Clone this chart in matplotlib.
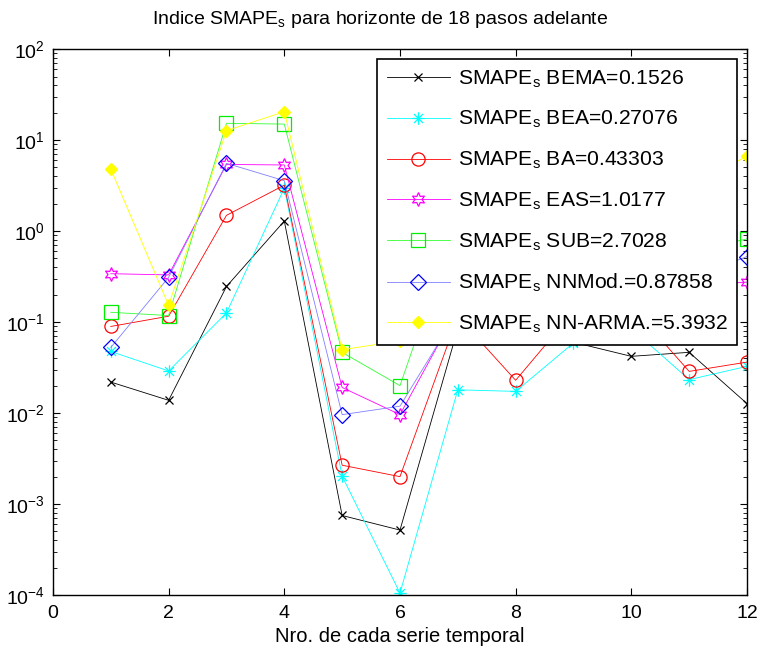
import matplotlib
matplotlib.use("Agg")
import matplotlib.pyplot as plt
import numpy as np
from matplotlib.ticker import LogLocator, NullFormatter
from matplotlib.path import Path

plt.rcParams['font.family'] = ['Liberation Sans', 'DejaVu Sans']
plt.rcParams['mathtext.fontset'] = 'custom'
plt.rcParams['mathtext.rm'] = 'Liberation Sans'
plt.rcParams['mathtext.it'] = 'Liberation Sans'

x = [1, 2, 3, 4, 5, 6, 7, 8, 9, 10, 11, 12]
bema = [0.0219, 0.0138, 0.246, 1.29, 0.000748, 0.000517, 0.085, 0.10, 0.060, 0.042, 0.0465, 0.0127]
bea = [0.0475, 0.029, 0.126, 2.96, 0.00202, 0.000105, 0.018, 0.0173, 0.059, 0.085, 0.0233, 0.0326]
ba = [0.0895, 0.116, 1.49, 3.2, 0.00267, 0.0020, 0.115, 0.0229, 0.13, 0.15, 0.0287, 0.0363]
eas = [0.34, 0.33, 5.4, 5.33, 0.0191, 0.0096, 0.14, 0.25, 0.30, 0.20, 0.25, 0.275]
sub = [0.128, 0.118, 15.3, 15.0, 0.0464, 0.020, 1.4, 0.5, 0.8, 1.2, 0.6, 0.82]
nnmod = [0.0526, 0.31, 5.56, 3.58, 0.0096, 0.0119, 0.13, 0.30, 0.40, 0.35, 0.30, 0.525]
nnarma = [4.8, 0.153, 12.7, 20.5, 0.0497, 0.062, 1.5, 3.0, 2.0, 4.0, 3.0, 6.68]

labels = ['SMAPE$_\\mathregular{s}$ BEMA=0.1526',
          'SMAPE$_\\mathregular{s}$ BEA=0.27076',
          'SMAPE$_\\mathregular{s}$ BA=0.43303',
          'SMAPE$_\\mathregular{s}$ EAS=1.0177',
          'SMAPE$_\\mathregular{s}$ SUB=2.7028',
          'SMAPE$_\\mathregular{s}$ NNMod.=0.87858',
          'SMAPE$_\\mathregular{s}$ NN-ARMA.=5.3932']

# asterisk marker (plus + cross)
d = 0.72
ast = Path([(0, -1), (0, 1), (-1, 0), (1, 0), (-d, -d), (d, d), (-d, d), (d, -d)],
           [Path.MOVETO, Path.LINETO] * 4)

fig = plt.figure(figsize=(7.61, 6.55), dpi=100)
ax = fig.add_axes([0.0696, 0.0916, 0.9120, 0.8334])

lw = 0.6
ax.plot(x, bema, color='k', lw=lw, marker='x', ms=6, mew=0.9, label=labels[0])
ax.plot(x, bea, color='#00FFFF', lw=lw, marker=ast, ms=9, mfc='none', mew=0.9, label=labels[1])
ax.plot(x, ba, color='#FF0000', lw=lw, marker='o', ms=9.5, mfc='none', mew=0.9, label=labels[2])
ax.plot(x, eas, color='#FF00FF', lw=lw, marker=(6, 1, 0), ms=10, mfc='none', mew=0.9, label=labels[3])
ax.plot(x, sub, color='#33FF33', lw=lw, marker='s', ms=9.5, mfc='none', mec='#00EE00', mew=0.9, label=labels[4])
ax.plot(x, nnmod, color='#8080FF', lw=lw, marker='D', ms=8, mfc='none', mec='#0000FF', mew=0.9, label=labels[5])
ax.plot(x, nnarma, color='#FFFF00', lw=lw, marker='D', ms=6.5, mfc='#FFFF00', mec='#FFFF00', label=labels[6])

ax.set_yscale('log')
ax.set_xlim(0, 12)
ax.set_ylim(1e-4, 1e2)
ax.set_xticks([0, 2, 4, 6, 8, 10, 12])
ax.yaxis.set_major_locator(LogLocator(base=10, numticks=10))
ax.yaxis.set_minor_locator(LogLocator(base=10, subs=np.arange(2, 10), numticks=20))
ax.yaxis.set_minor_formatter(NullFormatter())
ax.tick_params(which='both', direction='in', top=True, right=True, labelsize=14)
ax.tick_params(axis='x', pad=7)
ax.tick_params(axis='y', pad=6)
ax.tick_params(which='major', length=5, width=0.8)
ax.tick_params(which='minor', length=3, width=0.6)
for s in ax.spines.values():
    s.set_linewidth(1.0)

ax.set_title('Indice SMAPE$_\\mathregular{s}$ para horizonte de 18 pasos adelante',
             fontsize=14, pad=18, x=0.471)
ax.set_xlabel('Nro. de cada serie temporal', fontsize=14.5, labelpad=4)

leg = ax.legend(loc='upper right', bbox_to_anchor=(0.986, 0.982), fontsize=15.2,
                handlelength=3.0, labelspacing=0.92, borderpad=0.45, handletextpad=0.35,
                fancybox=False, framealpha=1, edgecolor='k', borderaxespad=0)
leg.get_frame().set_linewidth(1.2)

fig.savefig('out.png', dpi=100)
